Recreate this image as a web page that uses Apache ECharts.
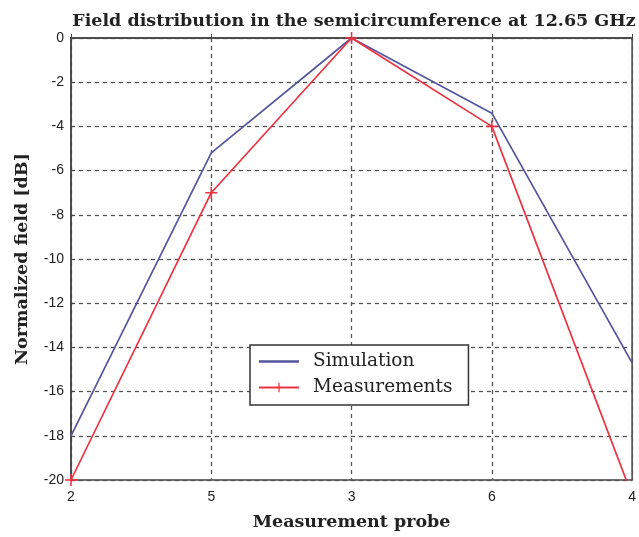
<!DOCTYPE html>
<html>
<head>
<meta charset="utf-8">
<script src="https://cdn.jsdelivr.net/npm/echarts@6/dist/echarts.min.js"></script>
<style>
  html, body { margin: 0; padding: 0; background: #fff; }
  #chart { width: 639px; height: 537px; }
</style>
</head>
<body>
<div id="chart"></div>
<script>
// Probe order along the semicircumference
const probes = ['2', '5', '3', '6', '4'];
// Normalized field in dB at each probe
const simulation = [-18, -5.2, 0, -3.4, -14.7];
const measurements = [-20, -7, 0, -4, -20.7];
const yTicks = { min: -20, max: 0, step: 2 };

const serif = '"DejaVu Serif", "Liberation Serif", serif';
const sans = '"Liberation Sans", Arial, sans-serif';
const blue = '#55559e';
const red = '#ee3140';
const plus = 'path://M-0.13,-1L0.13,-1L0.13,-0.13L1,-0.13L1,0.13L0.13,0.13L0.13,1L-0.13,1L-0.13,0.13L-1,0.13L-1,-0.13L-0.13,-0.13Z';

const chart = echarts.init(document.getElementById('chart'));
chart.setOption({
  animation: false,
  backgroundColor: '#fff',
  title: {
    text: 'Field distribution in the semicircumference at 12.65 GHz',
    left: 349, top: 7, textAlign: 'center',
    textStyle: { fontFamily: serif, fontWeight: 'bold', fontSize: 17.5, color: '#222' }
  },
  grid: {
    left: 71, right: 5, top: 38, bottom: 57,
    show: true, borderColor: '#444', borderWidth: 1.5, backgroundColor: '#fff'
  },
  legend: {
    orient: 'vertical', left: 250, top: 345,
    backgroundColor: '#fff', borderColor: '#333', borderWidth: 1.5,
    padding: [7, 16, 8, 8], itemGap: 7, itemWidth: 40, itemHeight: 12,
    textStyle: { fontFamily: serif, fontSize: 18.5, color: '#222', padding: [0, 0, 0, 9] },
    data: [
      { name: 'Simulation', icon: 'path://M0,0L1,0L1,0.06L0,0.06Z' },
      { name: 'Measurements' }
    ]
  },
  xAxis: {
    type: 'category', data: probes, boundaryGap: false,
    name: 'Measurement probe', nameLocation: 'middle', nameGap: 33,
    nameTextStyle: { fontFamily: serif, fontWeight: 'bold', fontSize: 17.5, color: '#222' },
    axisLine: { lineStyle: { color: '#444', width: 1.5 } },
    axisTick: { inside: true, length: 4, lineStyle: { color: '#444' } },
    axisLabel: { fontFamily: sans, fontSize: 14, color: '#222', margin: 10 },
    splitLine: { show: true, lineStyle: { color: '#555', type: [4, 4], width: 1.3 } }
  },
  yAxis: {
    type: 'value', min: yTicks.min, max: yTicks.max, interval: yTicks.step,
    name: 'Normalized field [dB]', nameLocation: 'middle', nameGap: 40,
    nameTextStyle: { fontFamily: serif, fontWeight: 'bold', fontSize: 17.5, color: '#222' },
    axisLine: { show: true, lineStyle: { color: '#444', width: 1.5 } },
    axisTick: { show: true, inside: true, length: 4, lineStyle: { color: '#444' } },
    axisLabel: { fontFamily: sans, fontSize: 14, color: '#222', margin: 7 },
    splitLine: { show: true, lineStyle: { color: '#555', type: [4, 4], width: 1.3 } }
  },
  series: [
    {
      name: 'Simulation', type: 'line', data: simulation,
      showSymbol: false, symbol: 'none',
      lineStyle: { color: blue, width: 1.7 }, itemStyle: { color: blue },
      clip: true, z: 3
    },
    {
      name: 'Measurements', type: 'line', data: measurements,
      symbol: plus, symbolSize: 12,
      lineStyle: { color: red, width: 1.7 }, itemStyle: { color: red },
      clip: true, z: 4
    }
  ]
});
</script>
</body>
</html>
